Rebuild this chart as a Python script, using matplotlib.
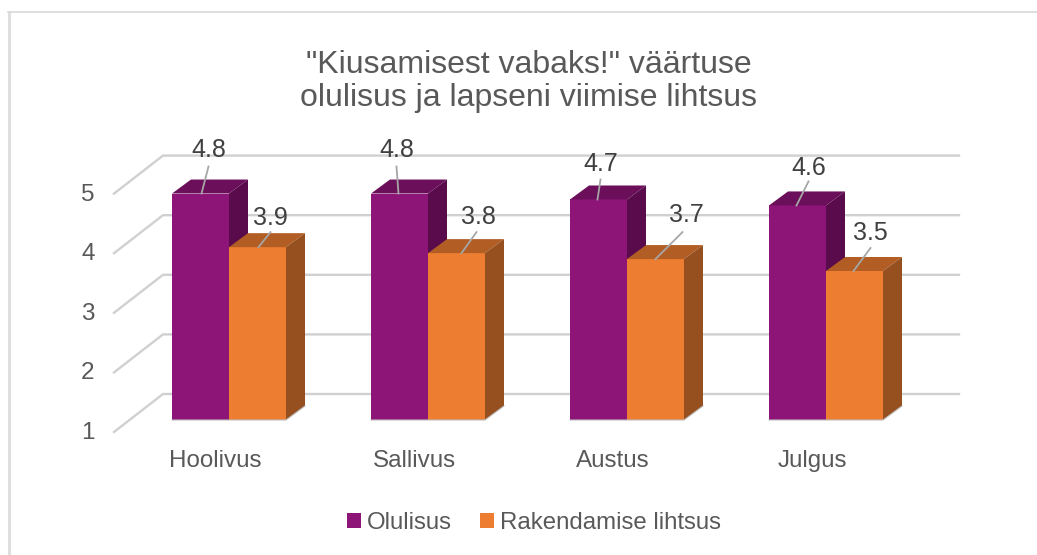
import matplotlib
matplotlib.use('Agg')
import matplotlib.pyplot as plt
from matplotlib.lines import Line2D
from matplotlib.patches import Polygon, Rectangle

categories = ['Hoolivus', 'Sallivus', 'Austus', 'Julgus']
olulisus = [4.8, 4.8, 4.7, 4.6]
lihtsus = [3.9, 3.8, 3.7, 3.5]
value_ticks = [1, 2, 3, 4, 5]

W, H = 1037, 555
PITCH = 199.0   # px per category
UNIT = 59.6     # px per value unit
X0 = 229.0      # px of first category
Y1 = 420.0      # px of value 1

plt.rcParams['font.family'] = ['Liberation Sans', 'DejaVu Sans']
fig = plt.figure(figsize=(W / 100, H / 100), dpi=100, facecolor='white')
ax = fig.add_axes([0, 0, 1, 1])
ax.set_xlim(-X0 / PITCH, (W - X0) / PITCH)
ax.set_ylim(1 - (H - Y1) / UNIT, 1 + Y1 / UNIT)
ax.axis('off')


def dx(px):
    return px / PITCH


def dy(px):
    return px / UNIT


# outer frame of the chart area
fig.add_artist(Line2D([8.5 / W, 8.5 / W], [0, 1 - 12 / H], color='#dedede', lw=2.2))
fig.add_artist(Line2D([8 / W, 1], [1 - 12 / H, 1 - 12 / H], color='#d9d9d9', lw=1.2))

# walls with gridlines
wall_left = dx(114 - X0)
wall_back = dx(163 - X0)
wall_right = dx(959 - X0)
for v in value_ticks:
    ax.plot([wall_left, wall_back, wall_right], [v - dy(12), v + dy(26), v + dy(26)],
            color='#d0d0d0', lw=1.7, zorder=1, solid_joinstyle='miter')
    ax.text(dx(88 - X0), v - dy(13), str(v), ha='center', va='center', fontsize=17.5, color='#595959')

BAR_W = 57 / PITCH
DEPTH_X = dx(19)
DEPTH_Y = dy(14)


def draw_box(x, v, front, top, side, z):
    ax.add_patch(Rectangle((x, 1), BAR_W, v - 1, facecolor=front, edgecolor='none', zorder=z))
    ax.add_patch(Polygon([(x, v), (x + BAR_W, v), (x + BAR_W + DEPTH_X, v + DEPTH_Y), (x + DEPTH_X, v + DEPTH_Y)],
                         facecolor=top, edgecolor='none', zorder=z))
    ax.add_patch(Polygon([(x + BAR_W, 1), (x + BAR_W + DEPTH_X, 1 + DEPTH_Y), (x + BAR_W + DEPTH_X, v + DEPTH_Y), (x + BAR_W, v)],
                         facecolor=side, edgecolor='none', zorder=z))


for i in range(len(categories)):
    draw_box(i - BAR_W, olulisus[i], '#8e1578', '#6c0f5b', '#590b4b', 2)
    draw_box(i, lihtsus[i], '#ed7d31', '#b15d24', '#964f1e', 3)
    ax.plot([i - BAR_W, i + BAR_W, i + BAR_W + DEPTH_X], [1, 1, 1 + DEPTH_Y], color='#bdbdbd', lw=0.8, zorder=4)
    ax.text(i - dx(14), 1 - dy(41), categories[i], ha='center', va='center', fontsize=17.4, color='#595959')

# label offsets from the bar's front top centre, px: text dx, text dy, leader dx0, leader dx1, leader dy1
label_off_a = [(8, 44, 1, 8, 27), (-3, 44, -1, -3, 27), (2, 35, -1, 2, 20), (11, 37, -1, 11, 24)]
label_off_b = [(13, 29, 1, 13, 15), (22, 36, 5, 20, 21), (31, 44, 0, 27, 27), (16, 38, -1, 16, 23)]
for i in range(len(categories)):
    for vals, cx, offs in [(olulisus, i - BAR_W / 2, label_off_a), (lihtsus, i + BAR_W / 2, label_off_b)]:
        v = vals[i]
        tx, ty, l0, l1, ly = offs[i]
        ax.plot([cx + dx(l0), cx + dx(l1)], [v, v + dy(ly)], color='#a6a6a6', lw=1.3, zorder=5)
        ax.text(cx + dx(tx), v + dy(ty), f'{v:.1f}', ha='center', va='center', fontsize=18, color='#404040', zorder=6)

ax.text(dx(529 - X0), 1 + dy(Y1 - 81.5), '"Kiusamisest vabaks!" väärtuse\nolulisus ja lapseni viimise lihtsus',
        ha='center', va='center', fontsize=23, color='#595959', linespacing=1.14)

# legend
handles = [Rectangle((0, 0), 1, 1, facecolor='#8e1578'), Rectangle((0, 0), 1, 1, facecolor='#ed7d31')]
fig.legend(handles, ['Olulisus', 'Rakendamise lihtsus'], loc='center', bbox_to_anchor=(534 / W, 1 - 523 / H),
           ncol=2, frameon=False, fontsize=17.3, labelcolor='#595959', handlelength=0.55, handleheight=0.55,
           handletextpad=0.25, columnspacing=1.2)

fig.savefig('out.png', dpi=100)
